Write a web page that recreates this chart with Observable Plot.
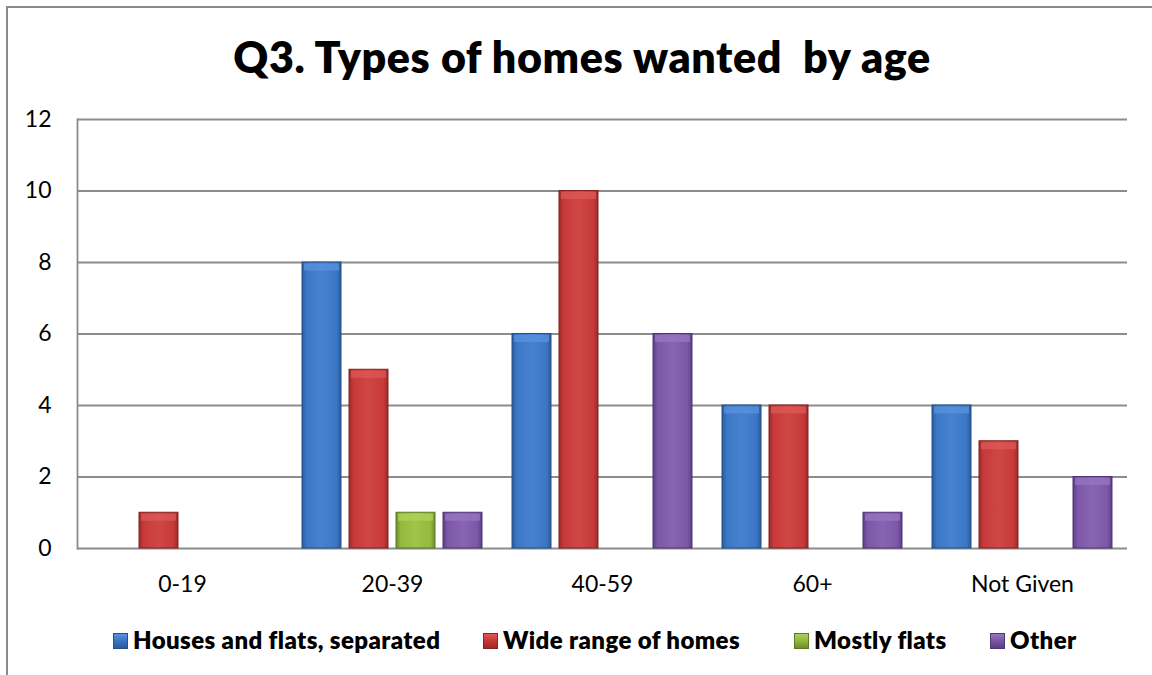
<!DOCTYPE html>
<html>
<head>
<meta charset="utf-8">
<script src="https://cdn.jsdelivr.net/npm/d3@7"></script>
<script src="https://cdn.jsdelivr.net/npm/@observablehq/plot@0.6"></script>
<style>
  html, body { margin: 0; padding: 0; background: #fff; }
  body { width: 1152px; height: 675px; position: relative; overflow: hidden; font-family: Lato, "Open Sans", sans-serif; }
  #border { position: absolute; left: 6px; top: 6px; width: 1200px; height: 720px; border-left: 2px solid #8a8a8a; border-top: 2px solid #8a8a8a; }
  #title { position: absolute; left: 7px; width: 1150px; top: 31px; text-align: center; font-weight: 800; font-size: 43px; letter-spacing: 0.6px; line-height: normal; color: #000; white-space: pre; }
  #chart { position: absolute; left: 0; top: 100px; }
  #legend { position: absolute; left: 0; top: 625px; width: 1152px; height: 40px; font-weight: 800; font-size: 24px; letter-spacing: 0.4px; line-height: normal; color: #000; white-space: nowrap; }
  .item { position: absolute; top: 0; display: flex; align-items: baseline; }
  .sw { width: 15px; height: 16px; margin-right: 5px; box-sizing: border-box; align-self: center; position: relative; top: 1px; }
</style>
</head>
<body>
<div id="border"></div>
<div id="title"></div>
<div id="chart"></div>
<div id="legend"></div>
<script>
const titleText = "Q3. Types of homes wanted  by age";
const categories = ["0-19", "20-39", "40-59", "60+", "Not Given"];
const series = ["Houses and flats, separated", "Wide range of homes", "Mostly flats", "Other"];
const housesAndFlats = [0, 8, 6, 4, 4];
const wideRange = [1, 5, 10, 4, 3];
const mostlyFlats = [0, 1, 0, 0, 0];
const other = [0, 1, 6, 1, 2];
const yTicks = [0, 2, 4, 6, 8, 10, 12];

const seriesValues = [housesAndFlats, wideRange, mostlyFlats, other];
const baseColors = ["#3b77c6", "#c73a39", "#95ba3e", "#7d58a8"];
const lightColors = ["#5a93dd", "#dc5a57", "#b0d15a", "#9876c2"];
const darkColors = ["#2a5a98", "#9a2b29", "#6e8d2a", "#5c3e84"];
const strokeColors = ["#24508a", "#842321", "#5d7a22", "#4f3574"];
const legendLeft = [113, 483, 794, 990];

const rows = [];
series.forEach((s, si) => {
  categories.forEach((c, ci) => {
    rows.push({cat: c, series: s, si, value: seriesValues[si][ci]});
  });
});

document.getElementById("title").textContent = titleText;

const barMarks = series.map((s, si) =>
  Plot.barY(rows.filter(d => d.si === si && d.value > 0), {
    fx: "cat", x: "series", y: "value",
    fill: `url(#grad${si})`, stroke: strokeColors[si], strokeWidth: 1
  })
);
const topMarks = series.map((s, si) =>
  Plot.tickY(rows.filter(d => d.si === si && d.value > 0), {
    fx: "cat", x: "series", y: "value",
    stroke: lightColors[si], strokeWidth: 7, dy: 4.5, insetLeft: 2, insetRight: 2, strokeOpacity: 0.75
  })
);

const chart = Plot.plot({
  width: 1152,
  height: 510,
  marginTop: 19,
  marginBottom: 62,
  marginLeft: 76,
  marginRight: 24,
  style: {fontFamily: "Lato, 'Open Sans', sans-serif", fontSize: "23px", color: "#000", background: "transparent"},
  fx: {domain: categories, padding: 0, label: null, tickSize: 0, tickPadding: 27, axis: "bottom"},
  x: {domain: series, paddingInner: 0.167, paddingOuter: 0.275, axis: null},
  y: {domain: [0, 12], ticks: yTicks, tickSize: 0, tickPadding: 26, label: null, tickFormat: d => String(d)},
  marks: [
    Plot.ruleY(yTicks, {stroke: "#8c8c8c", strokeWidth: 1.8}),
    Plot.frame({anchor: "left", facet: "super", stroke: "#8c8c8c", strokeWidth: 1.8}),
    ...barMarks,
    ...topMarks
  ]
});

const defs = d3.select(chart).insert("defs", ":first-child");
series.forEach((s, si) => {
  const mid = d3.interpolateRgb(baseColors[si], lightColors[si])(0.4);
  const g = defs.append("linearGradient").attr("id", `grad${si}`).attr("x1", "0").attr("x2", "1").attr("y1", "0").attr("y2", "0");
  g.append("stop").attr("offset", "0%").attr("stop-color", darkColors[si]);
  g.append("stop").attr("offset", "12%").attr("stop-color", baseColors[si]);
  g.append("stop").attr("offset", "50%").attr("stop-color", mid);
  g.append("stop").attr("offset", "88%").attr("stop-color", baseColors[si]);
  g.append("stop").attr("offset", "100%").attr("stop-color", darkColors[si]);
});

document.getElementById("chart").appendChild(chart);

const legend = document.getElementById("legend");
series.forEach((s, si) => {
  const item = document.createElement("div");
  item.className = "item";
  item.style.left = legendLeft[si] + "px";
  const sw = document.createElement("div");
  sw.className = "sw";
  sw.style.background = `linear-gradient(to bottom, ${lightColors[si]} 0%, ${baseColors[si]} 45%, ${darkColors[si]} 100%)`;
  sw.style.border = `1px solid ${strokeColors[si]}`;
  const label = document.createElement("span");
  label.textContent = s;
  item.appendChild(sw);
  item.appendChild(label);
  legend.appendChild(item);
});
</script>
</body>
</html>
